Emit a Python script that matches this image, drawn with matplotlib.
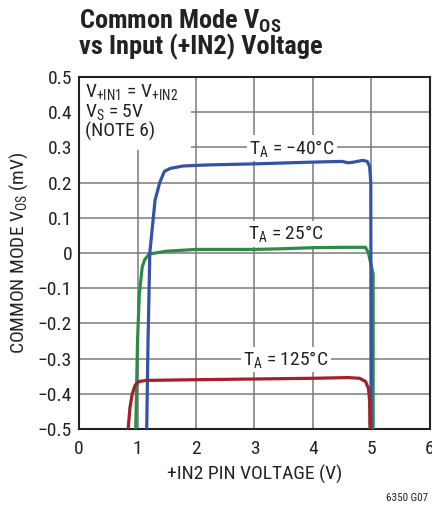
import matplotlib
matplotlib.use("Agg")
import matplotlib.pyplot as plt
from matplotlib.patches import Rectangle

font = "Roboto Condensed"
plt.rcParams['font.family'] = [font, 'DejaVu Sans']
plt.rcParams['mathtext.fontset'] = 'custom'
plt.rcParams['mathtext.rm'] = font
plt.rcParams['mathtext.it'] = font
plt.rcParams['mathtext.bf'] = font + ':bold'

# curves
blue_x = [1.157, 1.18, 1.21, 1.30, 1.38, 1.46, 1.56, 1.78, 2.2, 3.0, 4.0, 4.5, 4.6, 4.7, 4.85, 4.93, 4.97, 4.99, 4.995]
blue_y = [-0.5, -0.25, 0.0, 0.15, 0.20, 0.232, 0.240, 0.247, 0.25, 0.253, 0.258, 0.26, 0.256, 0.258, 0.263, 0.26, 0.245, 0.2, -0.5]
green_x = [0.97, 1.0, 1.03, 1.08, 1.12, 1.2, 1.5, 2.0, 3.0, 3.5, 4.0, 4.5, 4.9, 4.95, 5.03, 5.03]
green_y = [-0.5, -0.25, -0.12, -0.04, -0.02, -0.003, 0.005, 0.01, 0.01, 0.012, 0.015, 0.016, 0.016, 0.0, -0.06, -0.5]
red_x = [0.84, 0.87, 0.91, 0.96, 1.03, 1.15, 2.0, 3.0, 4.0, 4.6, 4.8, 4.9, 4.95, 4.97, 4.975]
red_y = [-0.5, -0.44, -0.40, -0.375, -0.365, -0.362, -0.36, -0.358, -0.356, -0.354, -0.356, -0.365, -0.385, -0.42, -0.5]

xticks = [0, 1, 2, 3, 4, 5, 6]
yticks = [-0.5, -0.4, -0.3, -0.2, -0.1, 0, 0.1, 0.2, 0.3, 0.4, 0.5]

fig = plt.figure(figsize=(4.32, 5.11), dpi=100)
ax = fig.add_axes([0.183, 0.1605, 0.812, 0.689])

ax.plot(blue_x, blue_y, color="#3552a8", lw=2.3, zorder=4)
ax.plot(green_x, green_y, color="#2f8a48", lw=2.3, zorder=3)
ax.plot(red_x, red_y, color="#a3202a", lw=2.3, zorder=5)

ax.set_xlim(0, 6)
ax.set_ylim(-0.5, 0.5)
ax.set_xticks(xticks)
ax.set_yticks(yticks)
ax.set_yticklabels([("%g" % v).replace("-", "\u2212") for v in yticks])
ax.grid(True, color="#7a7a7a", lw=1.1, zorder=0)
ax.set_axisbelow(True)
ax.tick_params(length=0, labelsize=14, pad=5, colors="#222222")
ax.tick_params(axis="x", pad=8)
for s in ax.spines.values():
    s.set_linewidth(1.5)
    s.set_color("#222222")

ax.add_patch(Rectangle((0, 0.793), 0.319, 0.207, transform=ax.transAxes,
                       facecolor="white", edgecolor="none", zorder=1))
ax.text(0.016, 0.985, "V$_{+IN1}$ = V$_{+IN2}$\nV$_S$ = 5V\n(NOTE 6)", transform=ax.transAxes,
        ha="left", va="top", fontsize=14, color="#222222", linespacing=1.0, zorder=2)

lab = dict(fontsize=14, color="#222222", ha="center", va="center", zorder=2,
           bbox=dict(facecolor="white", edgecolor="none", pad=1.5))
ax.text(3.64, 0.298, "T$_A$ = \u221240\u00b0C", **lab)
ax.text(3.54, 0.054, "T$_A$ = 25\u00b0C", **lab)
ax.text(3.54, -0.302, "T$_A$ = 125\u00b0C", **lab)

ax.set_xlabel("+IN2 PIN VOLTAGE (V)", fontsize=14, color="#222222", labelpad=5)
ax.set_ylabel("COMMON MODE V$_{OS}$ (mV)", fontsize=14, color="#222222", labelpad=6)

fig.text(0.183, 0.985, "Common Mode V$_{\\mathbf{OS}}$\nvs Input (+IN2) Voltage", ha="left", va="top",
         fontsize=19, fontweight="bold", color="#222222", linespacing=0.95)
fig.text(0.99, 0.015, "6350 G07", ha="right", va="bottom", fontsize=8, color="#222222")

plt.savefig("out.png", dpi=100)
